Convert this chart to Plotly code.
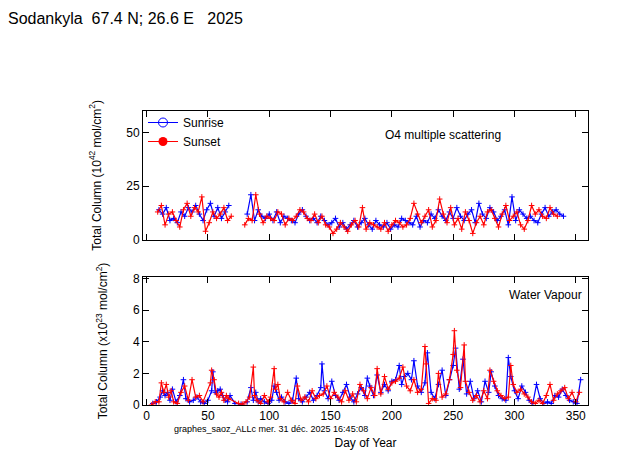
import plotly.graph_objects as go
from plotly.subplots import make_subplots

# O4 total column (1e42 mol/cm2); None = data gap
o4_rise_day = [10,13,16,19,22,25,28,31,34,37,40,43,46,49,52,55,58,61,64,67,75,
               82,85,88,91,94,97,100,103,106,109,112,115,118,121,124,127,130,133,136,139,142,145,148,151,154,157,160,163,166,169,172,175,178,181,184,187,190,193,196,199,202,205,208,211,214,217,220,223,226,229,232,235,238,241,244,247,250,253,256,259,262,265,268,271,274,277,280,283,286,289,292,295,298,301,304,307,310,313,316,319,322,325,328,331,334,337,340]
o4_rise = [14,12,15,9,10,8,13,11,15,13,16,12,9,14,17,11,15,10,13,16,None,
           12,21,9,14,11,10,12,9,13,8,11,10,9,8,12,14,11,9,10,8,11,9,7,8,10,6,8,5,7,9,6,8,10,7,5,9,7,6,8,5,7,6,10,9,8,7,11,6,9,8,12,10,14,11,9,13,10,15,11,9,12,14,8,17,12,10,15,13,9,11,14,7,20,9,14,12,10,11,9,8,12,15,11,13,14,12,11]
o4_set_day = [9,12,15,18,21,24,27,30,33,36,39,42,45,48,51,54,57,60,63,66,69,75,
              80,83,86,89,92,95,98,101,104,107,110,113,116,119,122,125,128,131,134,137,140,143,146,149,152,155,158,161,164,167,170,173,176,179,182,185,188,191,194,197,200,203,206,209,212,215,218,221,224,227,230,233,236,239,242,245,248,251,254,257,260,263,266,269,272,275,278,281,284,287,290,293,296,299,302,305,308,311,314,317,320,323,326,329,332,335,338,341]
o4_set = [13,16,7,12,13,9,6,14,17,11,15,13,20,4,8,13,10,12,15,9,11,None,
          7,10,9,21,12,8,11,10,9,13,12,7,10,9,11,14,13,10,9,12,8,11,7,6,3,5,8,6,4,7,9,6,15,5,8,7,6,5,8,4,7,9,8,6,7,10,17,12,8,11,14,6,9,19,12,8,15,7,10,5,13,9,3,8,11,7,13,14,10,6,12,16,9,11,13,7,5,9,16,12,14,11,10,15,12,11]

# Water vapour total column (1e23 mol/cm2)
wv_rise_day = [5,8,11,13,15,17,19,21,24,27,30,32,35,38,41,44,47,50,53,54,56,58,60,62,64,66,68,72,77,82,85,87,89,91,93,96,99,102,104,106,108,110,113,116,119,122,124,127,130,133,136,139,142,143,145,148,151,154,157,160,163,166,169,172,175,178,180,182,185,188,191,194,197,200,203,206,208,210,213,216,218,221,224,227,229,232,235,238,241,244,247,250,252,255,258,261,264,267,270,273,276,279,281,284,287,290,293,295,297,300,303,306,309,312,315,318,321,324,327,330,333,336,339,342,345,348,351,354]
wv_rise = [0.1,0.2,0.5,0.9,0.6,0.8,0.3,1.0,0.2,0.6,1.6,0.4,0.2,0.3,0.5,0.2,0.1,0.3,0.9,2.1,0.8,0.9,1.0,0.6,0.3,0.2,0.6,0.1,0.05,0.2,1.1,0.3,0.8,0.2,0.4,0.2,0.1,0.3,1.2,0.8,0.3,0.5,0.2,0.1,0.3,1.7,0.4,0.2,0.5,0.8,0.3,0.6,1.1,2.6,0.9,0.4,1.5,0.6,0.3,0.8,1.3,0.5,0.2,0.7,1.1,0.6,1.7,1.2,0.6,1.9,0.8,1.3,0.9,1.5,1.6,2.5,1.3,1.8,2.0,1.6,2.8,1.2,0.8,1.4,3.3,0.8,0.4,1.3,2.2,0.6,1.6,2.5,3.6,1.0,2.9,0.7,1.5,0.4,0.9,0.2,1.5,0.8,2.1,1.2,0.6,0.4,0.3,3.0,1.8,0.9,0.4,1.2,0.8,0.3,0.1,1.3,0.4,0.1,0.2,0.1,0.6,0.5,1.0,0.6,0.3,0.2,0.1,1.6]
wv_set_day = [4,7,10,12,14,16,18,20,22,25,28,31,34,37,40,43,46,52,53,55,57,59,61,63,65,67,75,78,81,84,87,88,90,93,96,99,101,104,105,107,109,112,115,118,121,123,126,129,132,135,138,141,144,147,150,153,156,159,162,165,168,171,174,177,180,183,186,188,191,194,197,200,203,206,209,212,215,218,221,224,227,228,230,233,236,238,241,244,247,250,251,253,256,259,260,263,266,269,272,275,278,280,283,286,289,292,295,297,299,302,305,308,311,314,317,320,323,326,329,332,335,338,341,344,347,350,353]
wv_set = [0.0,0.2,0.2,1.4,0.8,1.3,0.5,0.9,0.2,0.1,0.8,1.2,0.3,1.6,0.5,0.6,0.2,1.4,2.2,1.6,0.7,0.5,0.8,0.3,0.6,0.4,0.1,0.05,0.2,0.5,2.4,0.6,0.3,0.1,0.6,0.2,0.5,2.3,1.0,1.3,0.4,0.2,0.8,0.3,0.1,1.2,0.3,0.5,0.2,0.9,0.4,0.6,0.7,1.2,0.4,0.8,0.5,0.2,0.9,0.3,0.7,0.2,1.3,0.9,0.4,1.1,0.6,2.3,0.7,1.8,1.0,1.4,1.5,1.7,2.4,1.2,0.9,1.6,0.8,1.0,3.7,2.6,0.1,0.4,0.3,2.0,0.5,0.7,1.6,3.2,4.7,2.2,1.1,3.8,1.5,0.8,0.3,0.6,0.2,0.9,0.4,2.2,1.5,0.9,0.6,0.4,0.5,2.5,1.3,0.8,1.0,0.7,0.5,0.2,0.1,0.3,0.1,0.6,1.3,0.3,0.7,0.9,1.1,0.4,0.8,0.2,0.8]

x_ticks = [0, 50, 100, 150, 200, 250, 300, 350]

fig = make_subplots(rows=2, cols=1, vertical_spacing=0.12)

def add(x, y, color, row):
    fig.add_trace(go.Scatter(x=x, y=y, mode="lines+markers", showlegend=False,
                             line=dict(color=color, width=1.2),
                             marker=dict(symbol="cross-thin", size=4, line=dict(color=color, width=1))),
                  row=row, col=1)

add(o4_rise_day, o4_rise, "blue", 1)
add(o4_set_day, o4_set, "red", 1)
add(wv_rise_day, wv_rise, "blue", 2)
add(wv_set_day, wv_set, "red", 2)

fig.add_trace(go.Scatter(x=[None], y=[None], mode="lines+markers", name="Sunrise",
                         line=dict(color="blue", width=1),
                         marker=dict(symbol="circle-open", size=9, color="blue")), row=1, col=1)
fig.add_trace(go.Scatter(x=[None], y=[None], mode="lines+markers", name="Sunset",
                         line=dict(color="red", width=1),
                         marker=dict(symbol="circle", size=9, color="red")), row=1, col=1)

ax = dict(showline=True, linecolor="black", linewidth=1, mirror="ticks", ticks="inside",
          ticklen=6, tickcolor="black", showgrid=False, zeroline=False, range=[-3, 360],
          tickvals=x_ticks, tickfont=dict(size=12, color="black"), automargin=False)
fig.update_xaxes(**ax)
fig.update_xaxes(showticklabels=False, row=1, col=1)
fig.update_xaxes(title=dict(text="Day of Year", font=dict(size=12, color="black"), standoff=16), row=2, col=1)
ay = dict(showline=True, linecolor="black", linewidth=1, mirror="ticks", ticks="inside",
          ticklen=6, tickcolor="black", showgrid=False, zeroline=False,
          tickfont=dict(size=12, color="black"), automargin=False)
fig.update_yaxes(**ay)
fig.update_yaxes(range=[0, 60], tickvals=[0, 25, 50],
                 title=dict(text="Total Column (10<sup>42</sup> mol/cm<sup>2</sup>)", font=dict(size=12, color="black"), standoff=22),
                 row=1, col=1)
fig.update_yaxes(range=[0, 8.1], tickvals=[0, 2, 4, 6, 8],
                 title=dict(text="Total Column (x10<sup>23</sup> mol/cm<sup>2</sup>)", font=dict(size=12, color="black"), standoff=22),
                 row=2, col=1)

fig.update_layout(
    width=623, height=455, plot_bgcolor="white", paper_bgcolor="white",
    margin=dict(l=135, r=43, t=100, b=58, autoexpand=False),
    font=dict(family="Liberation Sans, Arial", color="black"),
    legend=dict(x=0.0, y=1.0, xanchor="left", yanchor="top", bgcolor="rgba(0,0,0,0)",
                font=dict(size=12), tracegroupgap=0, itemwidth=30),
    title=dict(text="Sodankyla  67.4 N; 26.6 E   2025", x=0.0, y=0.99, xanchor="left", yanchor="top",
               font=dict(size=16, color="black")),
)
fig.layout.yaxis.domain = [0.556, 0.99]
fig.layout.yaxis2.domain = [0.0, 0.431]
fig.add_annotation(text="O4 multiple scattering", xref="paper", yref="paper", x=0.81, y=0.94,
                   showarrow=False, font=dict(size=12))
fig.add_annotation(text="Water Vapour", xref="paper", yref="paper", x=0.99, y=0.37,
                   xanchor="right", showarrow=False, font=dict(size=12))
fig.add_annotation(text="graphes_saoz_ALLc mer. 31 déc. 2025 16:45:08", xref="paper", yref="paper",
                   x=0.065, y=-0.08, xanchor="left", yanchor="middle", showarrow=False, font=dict(size=9))
fig.write_html("out.html")
